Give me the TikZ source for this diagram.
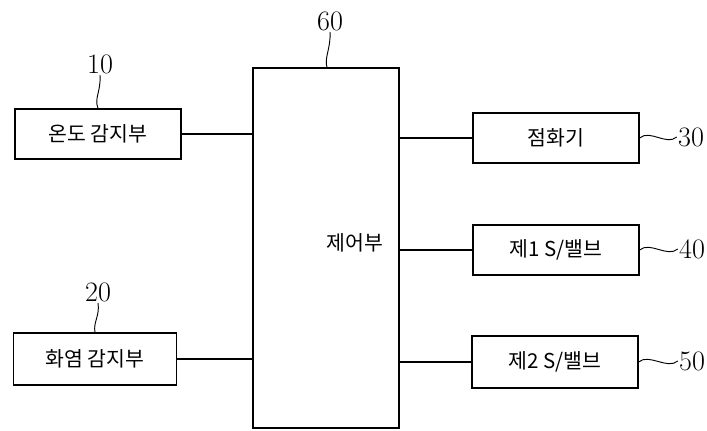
\documentclass[tikz,border=0pt]{standalone}
\usepackage{fontspec}
\newfontfamily\cjk{Noto Sans CJK KR}
\usepackage{tikz}
\usetikzlibrary{positioning,calc}

\begin{document}
\begin{tikzpicture}[
  x=0.03cm,y=-0.03cm,
  unit/.style={draw,line width=1.2pt,minimum width=4.98cm,minimum height=1.5cm,font=\cjk\fontsize{17.5}{20}\selectfont,inner sep=0pt},
  ctrlbox/.style={draw,line width=1.2pt,minimum width=4.38cm,minimum height=10.8cm,inner sep=0pt},
  refnum/.style={font=\fontsize{24}{26}\selectfont,inner sep=1pt},
  wire/.style={line width=0.9pt},
  leader/.style={line width=0.8pt}
]
\useasboundingbox (0,0) rectangle (707,431);
% control unit
\node[ctrlbox] (ctrl) at (326,248) {};
\node[font=\cjk\fontsize{17.5}{20}\selectfont] (ctrltxt) at (355,243) {제어부};
\node[refnum] (n60) at (330,21) {60};
\draw[leader] (ctrl.north -| 327,0) .. controls (324,58) and (331,48) .. (n60.south);

% sensors
\node[unit] (temp) at (98,134) {온도 감지부};
\node[unit,minimum width=4.89cm,minimum height=1.56cm] (flame) at (95,359) {화염 감지부};
\node[refnum] (n10) at (100,64) {10};
\node[refnum] (n20) at (98,292) {20};
\draw[leader] (temp.north) .. controls (94,98) and (101,92) .. (n10.south);
\draw[leader] (flame.north) .. controls (93,322) and (100,316) .. (n20.south);

% actuators
\node[unit] (ignit) at (556,138) {점화기};
\node[unit] (valve1) at (556,250) {제1 S/밸브};
\node[unit,minimum height=1.56cm] (valve2) at (555,362) {제2 S/밸브};
\node[refnum] (n30) at (691,137) {30};
\node[refnum] (n40) at (692,249) {40};
\node[refnum] (n50) at (692,361) {50};
\draw[leader] (ignit.east) .. controls +(10,-9) and +(-10,9) .. (n30.west);
\draw[leader] (valve1.east) .. controls +(10,-9) and +(-10,9) .. (n40.west);
\draw[leader] (valve2.east) .. controls +(10,-9) and +(-10,9) .. (n50.west);

% wiring
\draw[wire] (temp.east) -- (temp.east -| ctrl.west);
\draw[wire] (flame.east) -- (flame.east -| ctrl.west);
\draw[wire] (ignit.west -| ctrl.east) -- (ignit.west);
\draw[wire] (valve1.west -| ctrl.east) -- (valve1.west);
\draw[wire] (valve2.west -| ctrl.east) -- (valve2.west);
\end{tikzpicture}
\end{document}
